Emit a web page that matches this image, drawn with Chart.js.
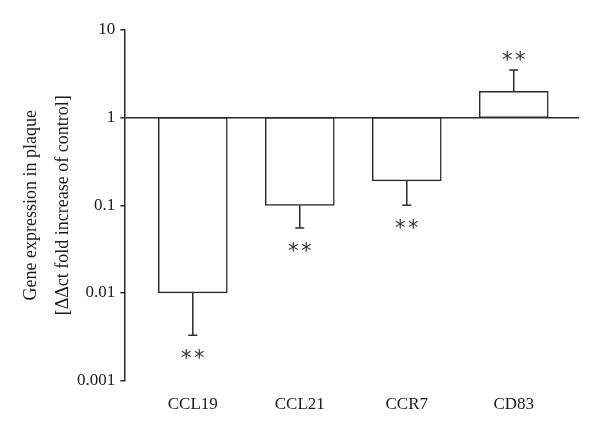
<!DOCTYPE html>
<html>
<head>
<meta charset="utf-8">
<script src="https://cdn.jsdelivr.net/npm/chart.js@4"></script>
<style>
  html, body { margin: 0; padding: 0; background: #fff; }
</style>
</head>
<body>
<canvas id="grafico" width="600" height="435"></canvas>
<script>
// datos
var categorias = ['CCL19', 'CCL21', 'CCR7', 'CD83'];
var expresion = [0.01, 0.1, 0.19, 2.0];
var errorFin = [0.0033, 0.055, 0.1, 3.5];
var significancia = ['**', '**', '**', '**'];
var ticksY = [0.001, 0.01, 0.1, 1, 10];

var colorLinea = '#2b2b2b';
var fuente = "'Liberation Serif', 'Times New Roman', serif";

// barras flotantes desde 1 (control) hasta el valor
var datosBarras = expresion.map((v, i) => ({ x: i, y: [1, v] }));

var barrasError = {
    id: 'barrasError',
    afterDatasetsDraw(chart) {
        var ctx = chart.ctx;
        var y = chart.scales.y;
        var meta = chart.getDatasetMeta(0);
        ctx.save();
        ctx.strokeStyle = colorLinea;
        ctx.lineWidth = 1.5;
        meta.data.forEach((bar, i) => {
            var x = bar.x;
            var y0 = y.getPixelForValue(expresion[i]);
            var y1 = y.getPixelForValue(errorFin[i]);
            ctx.beginPath();
            ctx.moveTo(x, y0);
            ctx.lineTo(x, y1);
            ctx.moveTo(x - 4.5, y1);
            ctx.lineTo(x + 4.5, y1);
            ctx.stroke();

            // asteriscos
            var abajo = errorFin[i] < expresion[i];
            var yc = abajo ? y1 + 18 : y1 - 15;
            ctx.fillStyle = '#333';
            ctx.font = "21px 'DejaVu Sans'";
            ctx.textAlign = 'center';
            ctx.textBaseline = 'alphabetic';
            var marcas = significancia[i].split('');
            marcas.forEach((m, k) => {
                var dx = (k - (marcas.length - 1) / 2) * 13;
                ctx.fillText(m, x + dx, yc + 12);
            });
        });
        ctx.restore();
    }
};

new Chart(document.getElementById('grafico').getContext('2d'), {
    type: 'bar',
    data: {
        datasets: [{
            data: datosBarras,
            backgroundColor: '#ffffff',
            borderColor: colorLinea,
            borderWidth: 1.5,
            borderSkipped: false,
            barThickness: 69
        }]
    },
    options: {
        responsive: false,
        animation: false,
        layout: { padding: { top: 30, right: 21, bottom: 6, left: 14 } },
        plugins: {
            legend: { display: false },
            tooltip: { enabled: false }
        },
        scales: {
            x: {
                type: 'linear',
                offset: false,
                min: -0.64,
                max: 3.61,
                grid: { display: false, drawTicks: false },
                border: { display: false },
                afterBuildTicks: axis => {
                    axis.ticks = categorias.map((c, i) => ({ value: i }));
                },
                ticks: {
                    padding: 14,
                    color: '#1a1a1a',
                    font: { family: fuente, size: 17 },
                    maxRotation: 0,
                    callback: v => categorias[v]
                }
            },
            y: {
                type: 'logarithmic',
                min: 0.001,
                max: 10,
                afterBuildTicks: axis => {
                    axis.ticks = ticksY.map(v => ({ value: v }));
                },
                grid: {
                    drawOnChartArea: true,
                    color: c => (c.tick && c.tick.value === 1) ? colorLinea : 'rgba(0,0,0,0)',
                    tickColor: colorLinea,
                    tickLength: 4,
                    lineWidth: 1.5
                },
                border: { display: true, color: colorLinea, width: 1.5 },
                ticks: {
                    padding: 5,
                    color: '#1a1a1a',
                    font: { family: fuente, size: 17 },
                    callback: v => String(v)
                },
                title: {
                    display: true,
                    text: ['Gene expression in plaque', '[\u0394\u0394ct fold increase of control]'],
                    color: '#1a1a1a',
                    padding: { top: 1, bottom: -7 },
                    font: { family: fuente, size: 18, lineHeight: 1.78 }
                }
            }
        }
    },
    plugins: [barrasError]
});
</script>
</body>
</html>
